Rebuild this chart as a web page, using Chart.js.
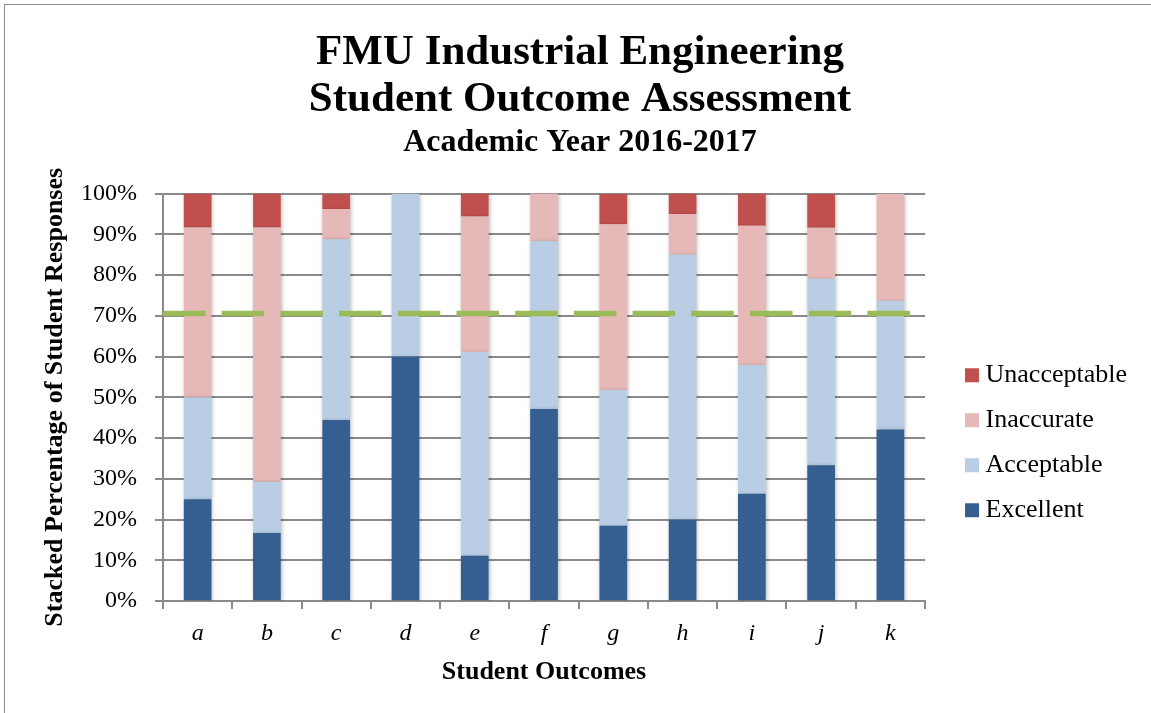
<!DOCTYPE html>
<html>
<head>
<meta charset="utf-8">
<title>FMU Industrial Engineering - Student Outcome Assessment</title>
<script src="https://cdn.jsdelivr.net/npm/chart.js@4.4.1/dist/chart.umd.min.js"></script>
<style>
  html, body { margin: 0; padding: 0; background: #fff; }
  #wrap { position: relative; width: 1151px; height: 713px; overflow: hidden; }
  #frame {
    position: absolute; left: 4px; top: 4px;
    width: 1400px; height: 1000px;
    border: 1px solid #8a8a8a; pointer-events: none;
  }
</style>
</head>
<body>
<div id="wrap">
  <canvas id="chart"></canvas>
  <div id="frame"></div>
</div>
<script>
// --- DATA ---
const outcomes = ["a", "b", "c", "d", "e", "f", "g", "h", "i", "j", "k"];

// percent of student responses per outcome
const excellent    = [25.0, 16.7, 44.4, 60.0, 11.1, 47.1, 18.5, 20.0, 26.3, 33.3, 42.1];
const acceptable   = [25.0, 12.5, 44.4, 40.0, 50.0, 41.2, 33.3, 65.0, 31.6, 45.8, 31.6];
const inaccurate   = [41.7, 62.5,  7.4,  0.0, 33.3, 11.8, 40.7, 10.0, 34.2, 12.5, 26.3];
const unacceptable = [ 8.3,  8.3,  3.7,  0.0,  5.6,  0.0,  7.4,  5.0,  7.9,  8.3,  0.0];

// performance target (dashed green line)
const targetLevel = 70.6;

// --- STYLE ---
const FONT = "'Liberation Serif', 'Times New Roman', Times, serif";
const gridColor = "#8a8a8a";

Chart.defaults.font.family = FONT;
Chart.defaults.color = "#000";

// soft shadow under the bars + the dashed target line on top
const overlays = {
  id: "overlays",
  beforeDatasetsDraw(chart) {
    const ctx = chart.ctx;
    ctx.save();
    ctx.shadowColor = "rgba(0, 0, 0, 0.28)";
    ctx.shadowBlur = 4;
    ctx.shadowOffsetX = 1;
    ctx.shadowOffsetY = 1;
  },
  afterDatasetsDraw(chart) {
    const { ctx, chartArea, scales } = chart;
    ctx.restore();

    const y = scales.y.getPixelForValue(targetLevel);
    ctx.save();
    ctx.strokeStyle = "#9BBB59";
    ctx.lineWidth = 5.5;
    ctx.lineCap = "butt";
    ctx.setLineDash([42.5, 16.2]);
    ctx.beginPath();
    ctx.moveTo(chartArea.left, y);
    ctx.lineTo(chartArea.right, y);
    ctx.stroke();
    ctx.restore();
  },
};

const ctx = document.getElementById("chart").getContext("2d");

new Chart(ctx, {
  type: "bar",
  data: {
    labels: outcomes,
    datasets: [
      { label: "Excellent", data: excellent, backgroundColor: "#365F91" },
      { label: "Acceptable", data: acceptable, backgroundColor: "#B9CDE5" },
      { label: "Inaccurate", data: inaccurate, backgroundColor: "#E6B9B8" },
      { label: "Unacceptable", data: unacceptable, backgroundColor: "#C0504D" },
    ],
  },
  options: {
    responsive: true,
    maintainAspectRatio: false,
    animation: false,
    barPercentage: 0.4,
    categoryPercentage: 1.0,
    layout: { padding: { top: 0, right: 14, bottom: 0, left: 23 } },
    scales: {
      x: {
        stacked: true,
        grid: {
          display: true,
          drawOnChartArea: false,
          tickLength: 8,
          color: gridColor,
          lineWidth: 2,
        },
        border: { display: true, color: gridColor, width: 2 },
        ticks: { font: { size: 24, style: "italic" }, padding: 10 },
        title: {
          display: true,
          text: "Student Outcomes",
          font: { size: 26, weight: "bold" },
          padding: { top: 0, bottom: 25 },
        },
        afterFit: (s) => { s.height = 112; },
      },
      y: {
        stacked: true,
        min: 0,
        max: 100,
        grid: { color: gridColor, lineWidth: 2, tickLength: 8 },
        border: { display: true, color: gridColor, width: 2 },
        ticks: {
          stepSize: 10,
          padding: 18,
          font: { size: 24 },
          callback: (v) => v + "%",
        },
        title: {
          display: true,
          text: "Stacked Percentage of Student Responses",
          font: { size: 26, weight: "bold" },
          padding: { top: 17, bottom: 0 },
        },
        afterFit: (s) => { s.width = 140; },
      },
      // empty spacer between plot and legend
      gap: {
        type: "linear",
        position: "right",
        display: true,
        grid: { display: false },
        border: { display: false },
        ticks: { display: false },
        afterFit: (s) => { s.width = 27.5; },
      },
    },
    plugins: {
      title: {
        display: true,
        text: ["FMU Industrial Engineering", "Student Outcome Assessment"],
        font: { size: 43, weight: "bold", lineHeight: 1.1 },
        color: "#000",
        padding: { top: 29, bottom: 0 },
      },
      subtitle: {
        display: true,
        text: "Academic Year 2016-2017",
        font: { size: 32, weight: "bold", lineHeight: 1 },
        color: "#000",
        padding: { top: 3, bottom: 35 },
      },
      legend: {
        position: "right",
        align: "start",
        reverse: true,
        title: { display: true, text: "", font: { size: 1 }, padding: { top: 342, bottom: 0 } },
        labels: {
          usePointStyle: true,
          pointStyle: "rect",
          boxWidth: 1,
          boxHeight: 14,
          padding: 19,
          color: "#000",
          font: { size: 26 },
        },
      },
      tooltip: { enabled: false },
    },
  },
  plugins: [overlays],
});
</script>
</body>
</html>
